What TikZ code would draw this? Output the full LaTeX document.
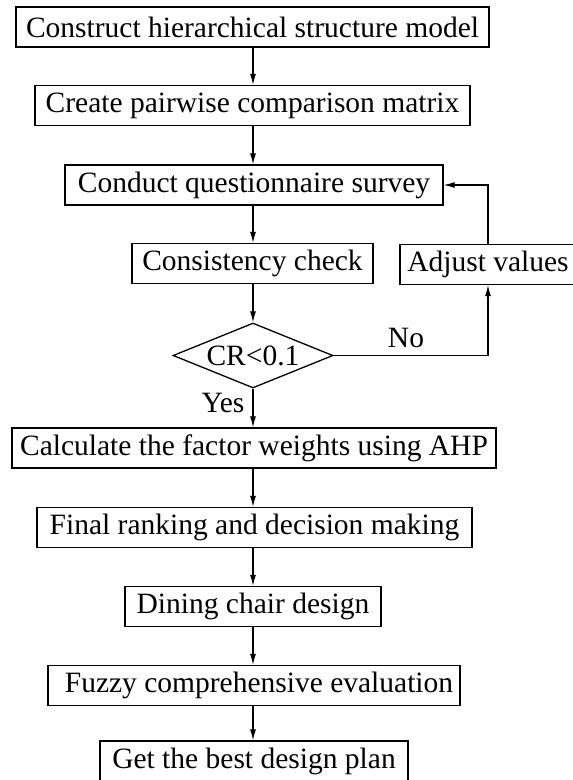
\documentclass[tikz,border=0pt]{standalone}
\usepackage{fontspec}
\setmainfont{Liberation Serif}
\usetikzlibrary{shapes.geometric,arrows.meta}
\begin{document}
\begin{tikzpicture}[x=1pt,y=-1pt,
  every node/.style={font=\fontsize{29.5}{32}\selectfont, inner sep=0pt},
  box/.style={draw, line width=1.3pt, rectangle, minimum height=40pt},
  dia/.style={draw, line width=1.3pt, diamond, minimum width=160pt, minimum height=65pt},
  arr/.style={line width=1.1pt, -{Latex[length=11pt,width=6pt]}},
  lbl/.style={}]
\useasboundingbox (0,0) rectangle (573,780);
\node[box, minimum width=473pt] (b1) at (252.5,27) {Construct hierarchical structure model};
\node[box, minimum width=435pt] (b2) at (252.5,105.5) {Create pairwise comparison matrix};
\node[box, minimum width=378pt] (b3) at (254,185) {Conduct questionnaire survey};
\node[box, minimum width=241pt] (b4) at (252.5,263.5) {Consistency check};
\node[box, minimum width=176pt] (adj) at (488,264.5) {Adjust values};
\node[dia] (cr) at (253,355.5) {};
\node (crt) at (253,356) {CR<0.1};
\node[box, minimum width=484pt] (b5) at (254,448) {Calculate the factor weights using AHP};
\node[box, minimum width=435pt] (b6) at (254.5,527.5) {Final ranking and decision making};
\node[box, minimum width=256pt] (b7) at (253,606.5) {Dining chair design};
\node[box, minimum width=412pt] (b8) at (254,685.5) {\hspace*{10pt}Fuzzy comprehensive evaluation};
\node[box, minimum width=308pt] (b9) at (254,761) {Get the best design plan};
\node[lbl] (no) at (406,338) {No};
\node[lbl] (yes) at (223,403) {Yes};
\draw[arr] (b1.south -| 253,0) -- (b2.north -| 253,0);
\draw[arr] (b2.south -| 253,0) -- (b3.north -| 253,0);
\draw[arr] (b3.south -| 253,0) -- (b4.north -| 253,0);
\draw[arr] (b4.south -| 253,0) -- (cr.north);
\draw[arr] (cr.south) -- (b5.north -| 253,0);
\draw[arr] (b5.south -| 253,0) -- (b6.north -| 253,0);
\draw[arr] (b6.south -| 253,0) -- (b7.north -| 253,0);
\draw[arr] (b7.south -| 253,0) -- (b8.north -| 253,0);
\draw[arr] (b8.south -| 253,0) -- (b9.north -| 253,0);
\draw[arr] (cr.east) -| (adj.south);
\draw[arr] (adj.north) |- (b3.east);
\end{tikzpicture}
\end{document}
